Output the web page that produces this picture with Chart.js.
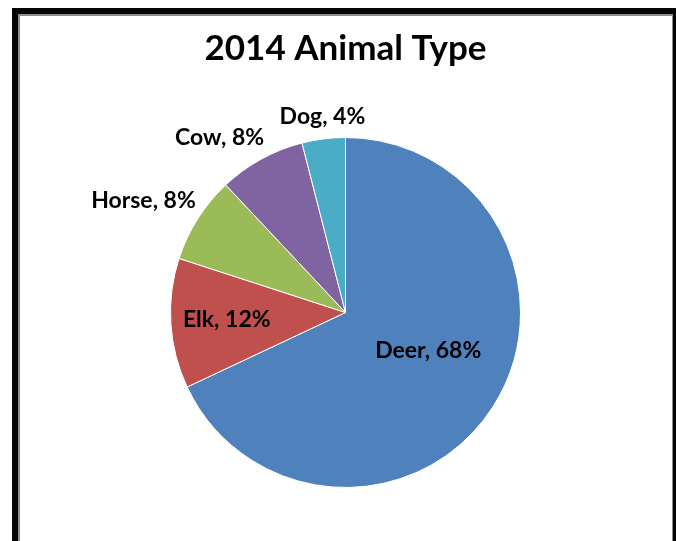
<!DOCTYPE html>
<html>
<head>
<meta charset="utf-8">
<script src="https://cdn.jsdelivr.net/npm/chart.js@4.4.1/dist/chart.umd.min.js"></script>
<style>
  html, body { margin: 0; padding: 0; background: #fff; overflow: hidden; }
  #frame {
    position: absolute; left: 12px; top: 8px; width: 655px; height: 560px;
    border: 6px solid #050505; border-bottom: none;
  }
  #inner {
    position: absolute; left: 0; top: 0; right: 0; bottom: 0;
    border-left: 2px solid #8e8e8e; border-top: 2px solid #8e8e8e; border-right: 1px solid #8e8e8e;
  }
  #wrap { position: absolute; left: 0; top: 0; width: 676px; height: 541px; }
</style>
</head>
<body>
<div id="frame"><div id="inner"></div></div>
<div id="wrap"><canvas id="animalChart" width="676" height="541"></canvas></div>
<script>
const animals = ['Deer', 'Elk', 'Horse', 'Cow', 'Dog'];
const percents = [68, 12, 8, 8, 4];
const sliceColors = ['#4f81bd', '#c0504d', '#9bbb59', '#8064a2', '#4bacc6'];

// where each label sits: fraction of the radius and a small angle nudge (degrees)
const labelPlacement = [
    { r: 0.52, turn: -7.8 },
    { r: 0.68, turn: 0 },
    { r: 1.32, turn: -3.4 },
    { r: 1.23, turn: -7 },
    { r: 1.13, turn: 0.5 }
];

const sliceLabels = {
    id: 'sliceLabels',
    afterDatasetsDraw(chart) {
        const ctx = chart.ctx;
        const arcs = chart.getDatasetMeta(0).data;
        ctx.save();
        ctx.font = 'bold 23px Lato';
        ctx.fillStyle = '#000';
        ctx.textAlign = 'center';
        ctx.textBaseline = 'middle';
        arcs.forEach((arc, i) => {
            const p = labelPlacement[i];
            const mid = (arc.startAngle + arc.endAngle) / 2 + p.turn * Math.PI / 180;
            const dist = arc.outerRadius * p.r;
            const x = arc.x + Math.cos(mid) * dist;
            const y = arc.y + Math.sin(mid) * dist;
            ctx.fillText(animals[i] + ', ' + percents[i] + '%', x, y);
        });
        ctx.restore();
    }
};

new Chart(document.getElementById('animalChart'), {
    type: 'pie',
    data: {
        labels: animals,
        datasets: [{
            data: percents,
            backgroundColor: sliceColors,
            borderColor: '#ffffff',
            borderWidth: 1
        }]
    },
    options: {
        responsive: false,
        animation: false,
        layout: { padding: { left: 15, right: 0, top: 0, bottom: 53 } },
        plugins: {
            legend: { display: false },
            tooltip: { enabled: false },
            title: {
                display: true,
                text: '2014 Animal Type',
                color: '#000',
                font: { family: 'Lato', size: 35, weight: 'bold' },
                padding: { top: 28, bottom: 67 }
            }
        }
    },
    plugins: [sliceLabels]
});
</script>
</body>
</html>
